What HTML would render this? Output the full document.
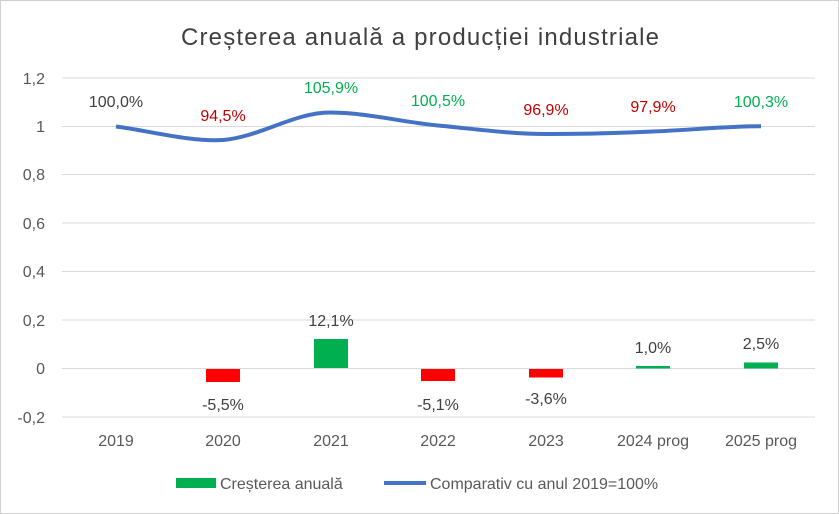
<!DOCTYPE html>
<html><head><meta charset="utf-8"><style>
body{margin:0;background:#fff}
svg{display:block;font-family:"Liberation Sans",sans-serif}
</style></head><body>
<svg width="839" height="514" viewBox="0 0 839 514">
<rect x="0.5" y="0.5" width="838" height="513" fill="#fff" stroke="#d0d0d0"/>
<text x="181" y="45" textLength="478" lengthAdjust="spacing" font-size="24" fill="#404040">Creșterea anuală a producției industriale</text>
<g stroke="#d9d9d9" stroke-width="1">
<line x1="62" x2="815" y1="78" y2="78"/><line x1="62" x2="815" y1="126.5" y2="126.5"/>
<line x1="62" x2="815" y1="174.5" y2="174.5"/><line x1="62" x2="815" y1="223" y2="223"/>
<line x1="62" x2="815" y1="271.5" y2="271.5"/><line x1="62" x2="815" y1="320" y2="320"/>
<line x1="62" x2="815" y1="368.5" y2="368.5"/><line x1="62" x2="815" y1="417" y2="417"/>
</g>
<g font-size="16" fill="#595959" text-anchor="end">
<text x="45" y="84">1,2</text><text x="45" y="132">1</text><text x="45" y="180">0,8</text>
<text x="45" y="229">0,6</text><text x="45" y="277">0,4</text><text x="45" y="326">0,2</text>
<text x="45" y="374">0</text><text x="45" y="423">-0,2</text>
</g>
<g font-size="16" fill="#595959" text-anchor="middle">
<text x="116" y="446">2019</text><text x="223" y="446">2020</text><text x="331" y="446">2021</text>
<text x="438" y="446">2022</text><text x="546" y="446">2023</text><text x="653" y="446">2024 prog</text><text x="761" y="446">2025 prog</text>
</g>
<rect x="206" y="369" width="34" height="13" fill="#ff0000"/>
<rect x="314" y="339" width="34" height="29" fill="#00b050"/>
<rect x="421" y="369" width="34" height="12" fill="#ff0000"/>
<rect x="529" y="369" width="34" height="8.5" fill="#ff0000"/>
<rect x="636" y="366" width="34" height="2.5" fill="#00b050"/>
<rect x="744" y="362.5" width="34" height="6" fill="#00b050"/>
<path d="M116,126.5 C150,131 190,142 223,140 C260,137 295,112 331,112.5 C370,113 400,122 438,125.5 C475,129 510,134 546,134 C580,134 620,133 653,131.5 C690,130 730,126 761,126.3" fill="none" stroke="#4472c4" stroke-width="4"/>
<g font-size="16" text-anchor="middle">
<text x="116" y="107" fill="#404040">100,0%</text>
<text x="223" y="121" fill="#c00000">94,5%</text>
<text x="331" y="93" fill="#00b050">105,9%</text>
<text x="438" y="106" fill="#00b050">100,5%</text>
<text x="546" y="115" fill="#c00000">96,9%</text>
<text x="653" y="112" fill="#c00000">97,9%</text>
<text x="761" y="107" fill="#00b050">100,3%</text>
<text x="223" y="410" fill="#404040">-5,5%</text>
<text x="331" y="326" fill="#404040">12,1%</text>
<text x="438" y="410" fill="#404040">-5,1%</text>
<text x="546" y="404" fill="#404040">-3,6%</text>
<text x="653" y="353" fill="#404040">1,0%</text>
<text x="761" y="349" fill="#404040">2,5%</text>
</g>
<rect x="176" y="478" width="40" height="10" fill="#00b050"/>
<text x="220" y="489" font-size="16" fill="#595959">Creșterea anuală</text>
<line x1="384" x2="426" y1="483" y2="483" stroke="#4472c4" stroke-width="4"/>
<text x="430" y="489" font-size="16" fill="#595959">Comparativ cu anul 2019=100%</text>
</svg>
</body></html>
